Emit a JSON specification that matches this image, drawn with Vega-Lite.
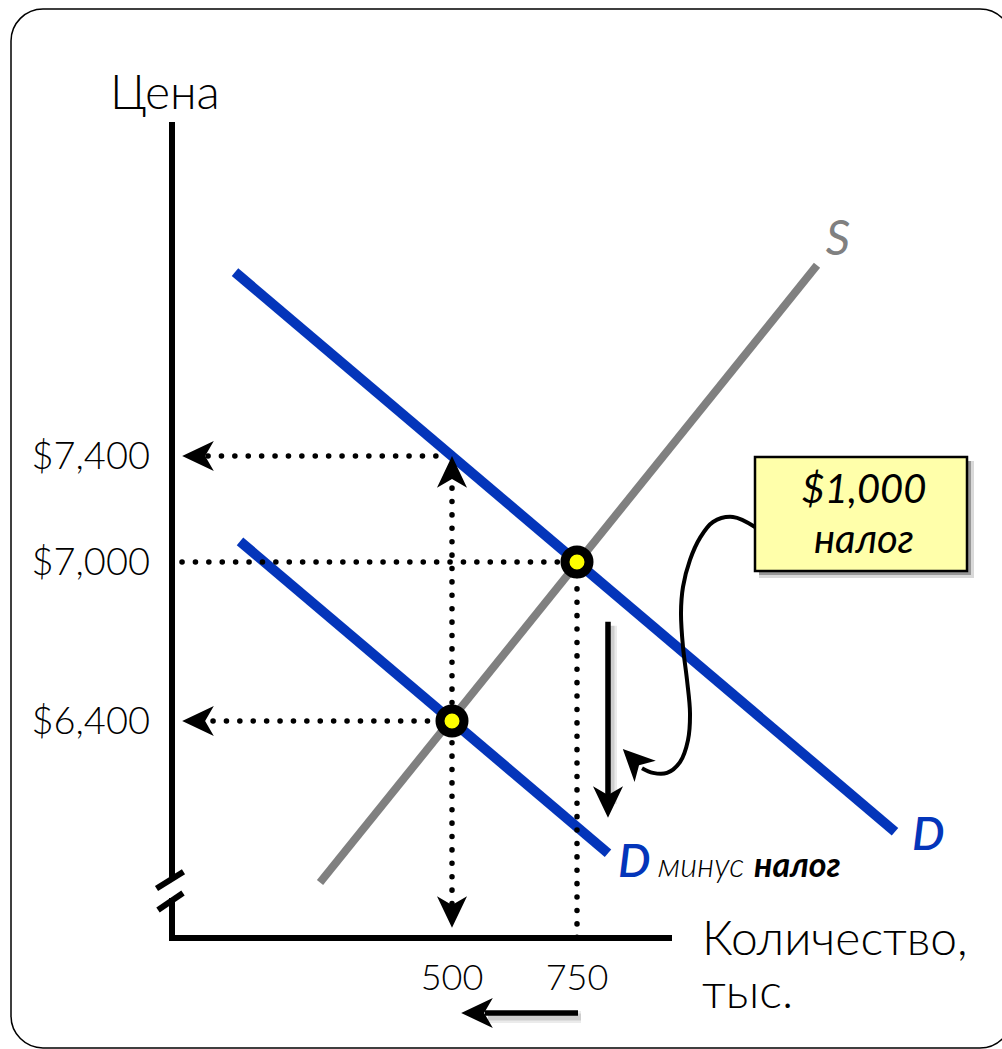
{
  "$schema": "https://vega.github.io/schema/vega-lite/v6.json",
  "width": 1002,
  "height": 1049,
  "padding": 0,
  "autosize": {"type": "none"},
  "background": "white",
  "config": {"view": {"stroke": null}, "font": "Lato, 'Open Sans', sans-serif"},
  "datasets": {
    "border": [{"q": -382, "p": 9087, "q2": 1620, "p2": 5166}],
    "supply": [{"curve": "S", "q": 236, "p": 5790}, {"curve": "S", "q": 1230, "p": 8120}],
    "demand": [
      {"curve": "D", "q": 66, "p": 8094}, {"curve": "D", "q": 1386, "p": 5982},
      {"curve": "D минус налог", "q": 76, "p": 7078}, {"curve": "D минус налог", "q": 812, "p": 5901}
    ],
    "axes": [
      {"part": "y top", "q": -60, "p": 8661, "q2": -60, "p2": 5807},
      {"part": "y bottom", "q": -60, "p": 5732, "q2": -60, "p2": 5570},
      {"part": "x", "q": -66, "p": 5581, "q2": 940, "p2": 5581},
      {"part": "break 1", "q": -91, "p": 5768, "q2": -37, "p2": 5831},
      {"part": "break 2", "q": -88, "p": 5687, "q2": -38, "p2": 5751}
    ],
    "dotted": [
      {"q": 12, "p": 7400, "q2": 476, "p2": 7400},
      {"q": -40, "p": 7000, "q2": 750, "p2": 7000},
      {"q": 22, "p": 6400, "q2": 500, "p2": 6400},
      {"q": 500, "p": 7279, "q2": 500, "p2": 5700},
      {"q": 750, "p": 7000, "q2": 750, "p2": 5581}
    ],
    "headsLeft": [{"q": -8, "p": 7400}, {"q": -8, "p": 6400}, {"q": 550, "p": 5298}],
    "headsUp": [{"q": 500, "p": 7340}],
    "headsDown": [{"q": 500, "p": 5679}, {"q": 812, "p": 6094}],
    "headsDiag": [{"q": 864, "p": 6252}],
    "shafts": [
      {"q": 812, "p": 6774, "q2": 812, "p2": 6102},
      {"q": 752, "p": 5298, "q2": 566, "p2": 5298}
    ],
    "equilibria": [{"q": 750, "p": 7000}, {"q": 500, "p": 6400}],
    "connector": [
      {"i": 0, "q": 1106, "p": 7132}, {"i": 1, "q": 1062, "p": 7170}, {"i": 2, "q": 1022, "p": 7151},
      {"i": 3, "q": 996, "p": 7091}, {"i": 4, "q": 976, "p": 7008}, {"i": 5, "q": 962, "p": 6906},
      {"i": 6, "q": 958, "p": 6808}, {"i": 7, "q": 962, "p": 6679}, {"i": 8, "q": 970, "p": 6555},
      {"i": 9, "q": 976, "p": 6430}, {"i": 10, "q": 972, "p": 6328}, {"i": 11, "q": 956, "p": 6245},
      {"i": 12, "q": 930, "p": 6204}, {"i": 13, "q": 902, "p": 6204}, {"i": 14, "q": 880, "p": 6222}
    ],
    "box": [{"q": 1106, "p": 7396, "q2": 1530, "p2": 6966}],
    "titles": [
      {"q": -184, "p": 8710, "t": "Цена"},
      {"q": 1000, "p": 5517, "t": "Количество,"},
      {"q": 1000, "p": 5317, "t": "тыс."}
    ],
    "yticks": [
      {"q": -104, "p": 7400, "t": "$7,400"},
      {"q": -104, "p": 7000, "t": "$7,000"},
      {"q": -104, "p": 6400, "t": "$6,400"}
    ],
    "xticks": [{"q": 500, "p": 5385, "t": "500"}, {"q": 750, "p": 5385, "t": "750"}],
    "sLabel": [{"q": 1272, "p": 8159, "t": "S"}],
    "dLabels": [{"q": 1420, "p": 5913, "t": "D"}, {"q": 832, "p": 5811, "t": "D"}],
    "minus": [{"q": 912, "p": 5811, "t": "минус"}],
    "tax": [{"q": 1104, "p": 5811, "t": "налог"}],
    "boxText": [{"q": 1324, "p": 7223, "t": "$1,000"}, {"q": 1324, "p": 7034, "t": "налог"}]
  },
  "encoding": {
    "x": {"field": "q", "type": "quantitative", "axis": null, "scale": {"domain": [-404, 1600], "nice": false, "zero": false}},
    "y": {"field": "p", "type": "quantitative", "axis": null, "scale": {"domain": [5162, 9121], "nice": false, "zero": false}}
  },
  "layer": [
    {"data": {"name": "border"}, "mark": {"type": "rect", "fill": null, "fillOpacity": 0, "stroke": "black", "strokeWidth": 1.5, "cornerRadius": 32},
     "encoding": {"x2": {"field": "q2"}, "y2": {"field": "p2"}}},
    {"data": {"name": "supply"}, "mark": {"type": "line", "color": "#808080", "strokeWidth": 8, "strokeCap": "butt"},
     "encoding": {"detail": {"field": "curve"}}},
    {"data": {"name": "demand"}, "mark": {"type": "line", "color": "#0435ba", "strokeWidth": 10, "strokeCap": "butt"},
     "encoding": {"detail": {"field": "curve"}}},
    {"data": {"name": "axes"}, "mark": {"type": "rule", "color": "black", "strokeWidth": 6},
     "encoding": {"x2": {"field": "q2"}, "y2": {"field": "p2"}}},
    {"data": {"name": "dotted"}, "mark": {"type": "rule", "color": "black", "strokeWidth": 5.5, "strokeCap": "round", "strokeDash": [0.1, 13.3]},
     "encoding": {"x2": {"field": "q2"}, "y2": {"field": "p2"}}},
    {"data": {"name": "shafts"}, "mark": {"type": "rule", "color": "#000000", "opacity": 0.08, "strokeWidth": 12, "xOffset": 3, "yOffset": 4, "x2Offset": 3, "y2Offset": 4},
     "encoding": {"x2": {"field": "q2"}, "y2": {"field": "p2"}}},
    {"data": {"name": "shafts"}, "mark": {"type": "rule", "color": "#000000", "opacity": 0.12, "strokeWidth": 7, "xOffset": 3, "yOffset": 4, "x2Offset": 3, "y2Offset": 4},
     "encoding": {"x2": {"field": "q2"}, "y2": {"field": "p2"}}},
    {"data": {"name": "shafts"}, "mark": {"type": "rule", "color": "black", "strokeWidth": 5.5},
     "encoding": {"x2": {"field": "q2"}, "y2": {"field": "p2"}}},
    {"data": {"name": "connector"}, "mark": {"type": "line", "color": "black", "strokeWidth": 4, "interpolate": "catmull-rom"},
     "encoding": {"order": {"field": "i", "type": "quantitative"}}},
    {"data": {"name": "headsLeft"}, "mark": {"type": "point", "shape": "M-1,0L1,-0.95L0.45,0L1,0.95Z", "size": 1000, "angle": 0, "filled": true, "color": "black", "opacity": 1}},
    {"data": {"name": "headsUp"}, "mark": {"type": "point", "shape": "M-1,0L1,-0.95L0.45,0L1,0.95Z", "size": 1000, "angle": 90, "filled": true, "color": "black", "opacity": 1}},
    {"data": {"name": "headsDown"}, "mark": {"type": "point", "shape": "M-1,0L1,-0.95L0.45,0L1,0.95Z", "size": 1000, "angle": 270, "filled": true, "color": "black", "opacity": 1}},
    {"data": {"name": "headsDiag"}, "mark": {"type": "point", "shape": "M-1,0L1,-0.95L0.45,0L1,0.95Z", "size": 1000, "angle": 45, "filled": true, "color": "black", "opacity": 1}},
    {"data": {"name": "equilibria"}, "mark": {"type": "point", "shape": "circle", "size": 576, "filled": true, "fill": "#ffff00", "stroke": "black", "strokeWidth": 9, "opacity": 1}},
    {"data": {"name": "box"}, "mark": {"type": "rect", "fill": "#000000", "opacity": 0.15, "xOffset": 4, "x2Offset": 7, "yOffset": 4, "y2Offset": 7},
     "encoding": {"x2": {"field": "q2"}, "y2": {"field": "p2"}}},
    {"data": {"name": "box"}, "mark": {"type": "rect", "fill": "#000000", "opacity": 0.3, "xOffset": 4, "x2Offset": 4, "yOffset": 4, "y2Offset": 4},
     "encoding": {"x2": {"field": "q2"}, "y2": {"field": "p2"}}},
    {"data": {"name": "box"}, "mark": {"type": "rect", "fill": "#ffffaa", "stroke": "black", "strokeWidth": 2.5, "opacity": 1},
     "encoding": {"x2": {"field": "q2"}, "y2": {"field": "p2"}}},
    {"data": {"name": "titles"}, "mark": {"type": "text", "fontSize": 48, "fontWeight": 300, "align": "left", "baseline": "alphabetic", "color": "black"},
     "encoding": {"text": {"field": "t"}}},
    {"data": {"name": "yticks"}, "mark": {"type": "text", "fontSize": 38, "fontWeight": 300, "align": "right", "baseline": "middle", "dy": 2, "color": "black"},
     "encoding": {"text": {"field": "t"}}},
    {"data": {"name": "xticks"}, "mark": {"type": "text", "fontSize": 36, "fontWeight": 300, "align": "center", "baseline": "alphabetic", "color": "black"},
     "encoding": {"text": {"field": "t"}}},
    {"data": {"name": "sLabel"}, "mark": {"type": "text", "fontSize": 48, "fontStyle": "italic", "align": "center", "baseline": "alphabetic", "color": "#808080"},
     "encoding": {"text": {"field": "t"}}},
    {"data": {"name": "dLabels"}, "mark": {"type": "text", "fontSize": 46, "fontStyle": "italic", "fontWeight": 600, "align": "left", "baseline": "alphabetic", "color": "#0435ba"},
     "encoding": {"text": {"field": "t"}}},
    {"data": {"name": "minus"}, "mark": {"type": "text", "fontSize": 33, "fontStyle": "italic", "fontWeight": 300, "align": "left", "baseline": "alphabetic", "color": "black"},
     "encoding": {"text": {"field": "t"}}},
    {"data": {"name": "tax"}, "mark": {"type": "text", "fontSize": 34, "fontStyle": "italic", "fontWeight": "bold", "align": "left", "baseline": "alphabetic", "color": "black"},
     "encoding": {"text": {"field": "t"}}},
    {"data": {"name": "boxText"}, "mark": {"type": "text", "fontSize": 40, "fontStyle": "italic", "align": "center", "baseline": "alphabetic", "color": "black"},
     "encoding": {"text": {"field": "t"}}}
  ]
}
